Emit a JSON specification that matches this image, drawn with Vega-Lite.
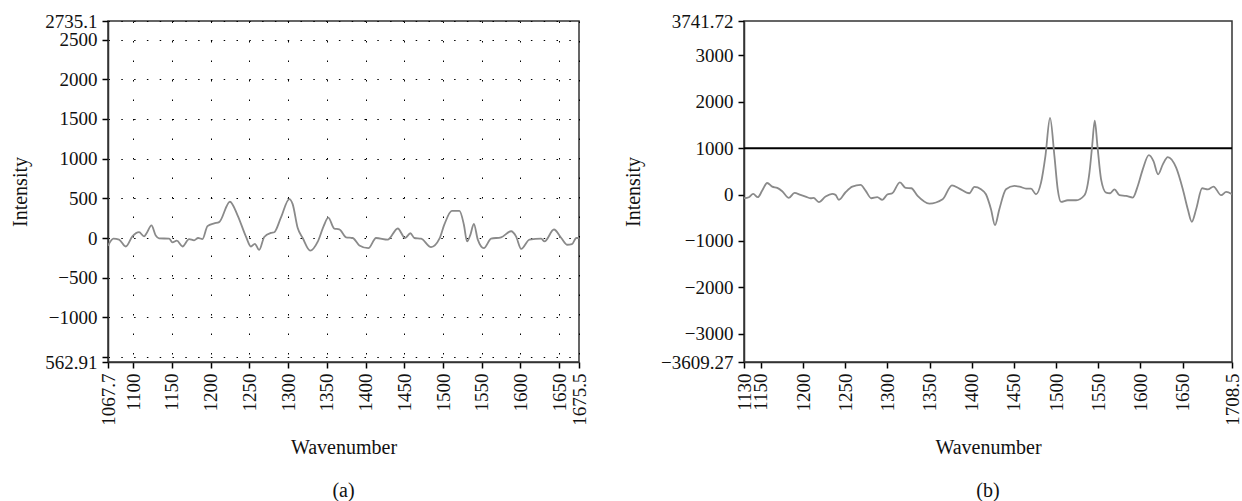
{
  "$schema": "https://vega.github.io/schema/vega-lite/v6.json",
  "background": "white",
  "padding": {"left": 10, "top": 11, "right": 0, "bottom": 0},
  "spacing": 32,
  "config": {
    "font": "Liberation Serif",
    "view": {"stroke": "#333", "strokeWidth": 1.5},
    "axis": {
      "labelFont": "Liberation Serif", "labelFontSize": 19, "labelColor": "#111",
      "titleFont": "Liberation Serif", "titleFontSize": 20, "titleFontWeight": "normal", "titleColor": "#111",
      "domainColor": "#333", "domainWidth": 1.5, "tickColor": "#000", "tickWidth": 1.5, "tickSize": 6,
      "labelPadding": 5, "labelOverlap": false, "labelFlush": false, "labelBound": false
    },
    "title": {"font": "Liberation Serif", "fontSize": 20, "fontWeight": "normal", "color": "#111"}
  },
  "datasets": {
    "a": [
      {"w": 1067.7, "v": -98}, {"w": 1074.7, "v": -9}, {"w": 1082, "v": -21}, {"w": 1090.6, "v": -107},
      {"w": 1099.2, "v": 21}, {"w": 1107.8, "v": 73}, {"w": 1114.2, "v": 21}, {"w": 1117.7, "v": 64},
      {"w": 1123.8, "v": 158}, {"w": 1129.3, "v": 30}, {"w": 1133.6, "v": -4}, {"w": 1146.5, "v": -9},
      {"w": 1150.9, "v": -55}, {"w": 1156.5, "v": -34}, {"w": 1163.8, "v": -107}, {"w": 1172.4, "v": -13},
      {"w": 1178.8, "v": -30}, {"w": 1184, "v": 0}, {"w": 1189.6, "v": -13}, {"w": 1196.1, "v": 150},
      {"w": 1204.7, "v": 184}, {"w": 1211.1, "v": 200}, {"w": 1225, "v": 457}, {"w": 1234.9, "v": 286},
      {"w": 1245.6, "v": 21}, {"w": 1252.1, "v": -107}, {"w": 1257.2, "v": -73}, {"w": 1262.8, "v": -150},
      {"w": 1269.3, "v": 13}, {"w": 1277.9, "v": 64}, {"w": 1282.2, "v": 73}, {"w": 1290.8, "v": 256},
      {"w": 1301.6, "v": 491}, {"w": 1306, "v": 427}, {"w": 1312.4, "v": 128}, {"w": 1318.9, "v": 0},
      {"w": 1328.7, "v": -160}, {"w": 1338.2, "v": -50}, {"w": 1346, "v": 150}, {"w": 1352, "v": 256},
      {"w": 1359.7, "v": 118}, {"w": 1366.2, "v": 110}, {"w": 1374.9, "v": 9}, {"w": 1383.5, "v": 0},
      {"w": 1392.1, "v": -94}, {"w": 1403.7, "v": -128}, {"w": 1413.6, "v": 0}, {"w": 1428.7, "v": -21},
      {"w": 1441.6, "v": 120}, {"w": 1451.1, "v": 0}, {"w": 1457.9, "v": 60}, {"w": 1463.1, "v": 0},
      {"w": 1471.7, "v": -9}, {"w": 1484.6, "v": -115}, {"w": 1495.4, "v": -9}, {"w": 1501.8, "v": 171},
      {"w": 1511.4, "v": 342}, {"w": 1521.2, "v": 342}, {"w": 1526.9, "v": 171}, {"w": 1531.1, "v": -43},
      {"w": 1535.4, "v": 43}, {"w": 1539.8, "v": 179}, {"w": 1544.9, "v": -21}, {"w": 1552.7, "v": -128},
      {"w": 1562.1, "v": -9}, {"w": 1575, "v": 9}, {"w": 1588, "v": 85}, {"w": 1594.2, "v": 21},
      {"w": 1600.9, "v": -137}, {"w": 1611.6, "v": -21}, {"w": 1626.7, "v": -9}, {"w": 1631, "v": -43},
      {"w": 1643.2, "v": 107}, {"w": 1652.6, "v": 0}, {"w": 1660.4, "v": -85}, {"w": 1666.4, "v": -77},
      {"w": 1672, "v": 0}, {"w": 1675.5, "v": 0}
    ],
    "b": [
      {"w": 1130, "v": -79}, {"w": 1135.7, "v": -57}, {"w": 1140.9, "v": 14}, {"w": 1146.4, "v": -57},
      {"w": 1151.6, "v": 86}, {"w": 1157.5, "v": 250}, {"w": 1163.4, "v": 171}, {"w": 1169.4, "v": 143},
      {"w": 1175.3, "v": 71}, {"w": 1183.2, "v": -71}, {"w": 1189.9, "v": 36}, {"w": 1197, "v": -7},
      {"w": 1203, "v": -43}, {"w": 1208.9, "v": -79}, {"w": 1212.5, "v": -71}, {"w": 1218.7, "v": -164},
      {"w": 1226.7, "v": -43}, {"w": 1234.6, "v": 14}, {"w": 1238.5, "v": -7}, {"w": 1242.5, "v": -114},
      {"w": 1250.4, "v": 50}, {"w": 1258.4, "v": 171}, {"w": 1268.2, "v": 207}, {"w": 1274.1, "v": 86},
      {"w": 1280.9, "v": -79}, {"w": 1288, "v": -57}, {"w": 1293.9, "v": -114}, {"w": 1299.9, "v": 0},
      {"w": 1305.8, "v": 29}, {"w": 1314.8, "v": 264}, {"w": 1321.6, "v": 143}, {"w": 1328.3, "v": 136},
      {"w": 1335.8, "v": -29}, {"w": 1349.7, "v": -193}, {"w": 1365.5, "v": -100}, {"w": 1376.5, "v": 200},
      {"w": 1385.3, "v": 129}, {"w": 1397.1, "v": 29}, {"w": 1403.1, "v": 164}, {"w": 1410.9, "v": 114},
      {"w": 1416.8, "v": 7}, {"w": 1422.8, "v": -315}, {"w": 1427.5, "v": -658}, {"w": 1432.7, "v": -315},
      {"w": 1440.6, "v": 114}, {"w": 1450.5, "v": 186}, {"w": 1456.5, "v": 172}, {"w": 1464.3, "v": 129},
      {"w": 1470.2, "v": 129}, {"w": 1476.1, "v": 7}, {"w": 1482.1, "v": 257}, {"w": 1487.3, "v": 829},
      {"w": 1492.8, "v": 1652}, {"w": 1498, "v": 829}, {"w": 1501.9, "v": 114}, {"w": 1505.8, "v": -157},
      {"w": 1513.8, "v": -122}, {"w": 1523.6, "v": -122}, {"w": 1533.6, "v": -14}, {"w": 1539.5, "v": 472},
      {"w": 1542.7, "v": 1044}, {"w": 1545.8, "v": 1594}, {"w": 1549, "v": 1044}, {"w": 1553.3, "v": 329},
      {"w": 1559.2, "v": 43}, {"w": 1564, "v": 29}, {"w": 1569.2, "v": 114}, {"w": 1575.1, "v": -14},
      {"w": 1583, "v": -29}, {"w": 1590.9, "v": -64}, {"w": 1596.8, "v": 186}, {"w": 1602.7, "v": 543},
      {"w": 1609.9, "v": 851}, {"w": 1615.4, "v": 722}, {"w": 1620.9, "v": 436}, {"w": 1626.5, "v": 651},
      {"w": 1632.4, "v": 808}, {"w": 1642.3, "v": 579}, {"w": 1650.2, "v": 114}, {"w": 1656.1, "v": -315},
      {"w": 1660.8, "v": -586}, {"w": 1666, "v": -315}, {"w": 1673.1, "v": 136}, {"w": 1679.8, "v": 114},
      {"w": 1686.6, "v": 172}, {"w": 1695.6, "v": -14}, {"w": 1701.6, "v": 57}, {"w": 1708.5, "v": 7}
    ],
    "thr": [{"t": 1000}]
  },
  "hconcat": [
    {
      "width": 471, "height": 341,
      "title": {"text": "(a)", "orient": "bottom", "offset": 24},
      "data": {"name": "a"},
      "mark": {"type": "line", "color": "#8a8a8a", "strokeWidth": 1.8, "interpolate": "monotone", "clip": true},
      "encoding": {
        "x": {"field": "w", "type": "quantitative",
          "scale": {"domain": [1067.7, 1675.5], "nice": false, "zero": false},
          "axis": {"title": "Wavenumber", "titlePadding": 12, "labelAngle": -90,
            "values": [1067.7, 1100, 1150, 1200, 1250, 1300, 1350, 1400, 1450, 1500, 1550, 1600, 1650, 1675.5],
            "labelExpr": "datum.value == 1067.7 ? '1067.7' : datum.value == 1675.5 ? '1675.5' : format(datum.value, 'd')",
            "grid": true, "gridColor": "#000", "gridWidth": 1, "gridDash": [1.5, 18]}},
        "y": {"field": "v", "type": "quantitative",
          "scale": {"domain": [-1562.91, 2735.1], "nice": false, "zero": false},
          "axis": {"title": "Intensity", "titlePadding": 14,
            "values": [-1562.91, -1500, -1000, -500, 0, 500, 1000, 1500, 2000, 2500, 2735.1],
            "labelExpr": "datum.value == -1500 ? '' : datum.value < -1550 ? '562.91' : datum.value > 2700 ? '2735.1' : format(datum.value, 'd')",
            "grid": true, "gridColor": "#000", "gridWidth": 1, "gridDash": [1.5, 11.3]}}
      }
    },
    {
      "width": 488, "height": 341,
      "title": {"text": "(b)", "orient": "bottom", "offset": 24},
      "layer": [
        {
          "data": {"name": "thr"},
          "mark": {"type": "rule", "color": "#000", "strokeWidth": 2},
          "encoding": {"y": {"field": "t", "type": "quantitative"}}
        },
        {
          "data": {"name": "b"},
          "mark": {"type": "line", "color": "#8a8a8a", "strokeWidth": 1.8, "interpolate": "monotone", "clip": true},
          "encoding": {
            "x": {"field": "w", "type": "quantitative",
              "scale": {"domain": [1130, 1708.5], "nice": false, "zero": false},
              "axis": {"title": "Wavenumber", "titlePadding": 12, "labelAngle": -90,
                "values": [1130, 1150, 1200, 1250, 1300, 1350, 1400, 1450, 1500, 1550, 1600, 1650, 1708.5],
                "labelExpr": "datum.value == 1708.5 ? '1708.5' : format(datum.value, 'd')",
                "grid": false}},
            "y": {"field": "v", "type": "quantitative",
              "scale": {"domain": [-3609.27, 3741.72], "nice": false, "zero": false},
              "axis": {"title": "Intensity", "titlePadding": 17,
                "values": [-3609.27, -3500, -3000, -2500, -2000, -1500, -1000, -500, 0, 500, 1000, 1500, 2000, 2500, 3000, 3500, 3741.72],
                "labelExpr": "abs(datum.value) == 3500 ? '' : datum.value < -3550 ? format(datum.value, '.2f') : datum.value > 3700 ? '3741.72' : format(datum.value, 'd')",
                "grid": false}}
          }
        }
      ]
    }
  ]
}
